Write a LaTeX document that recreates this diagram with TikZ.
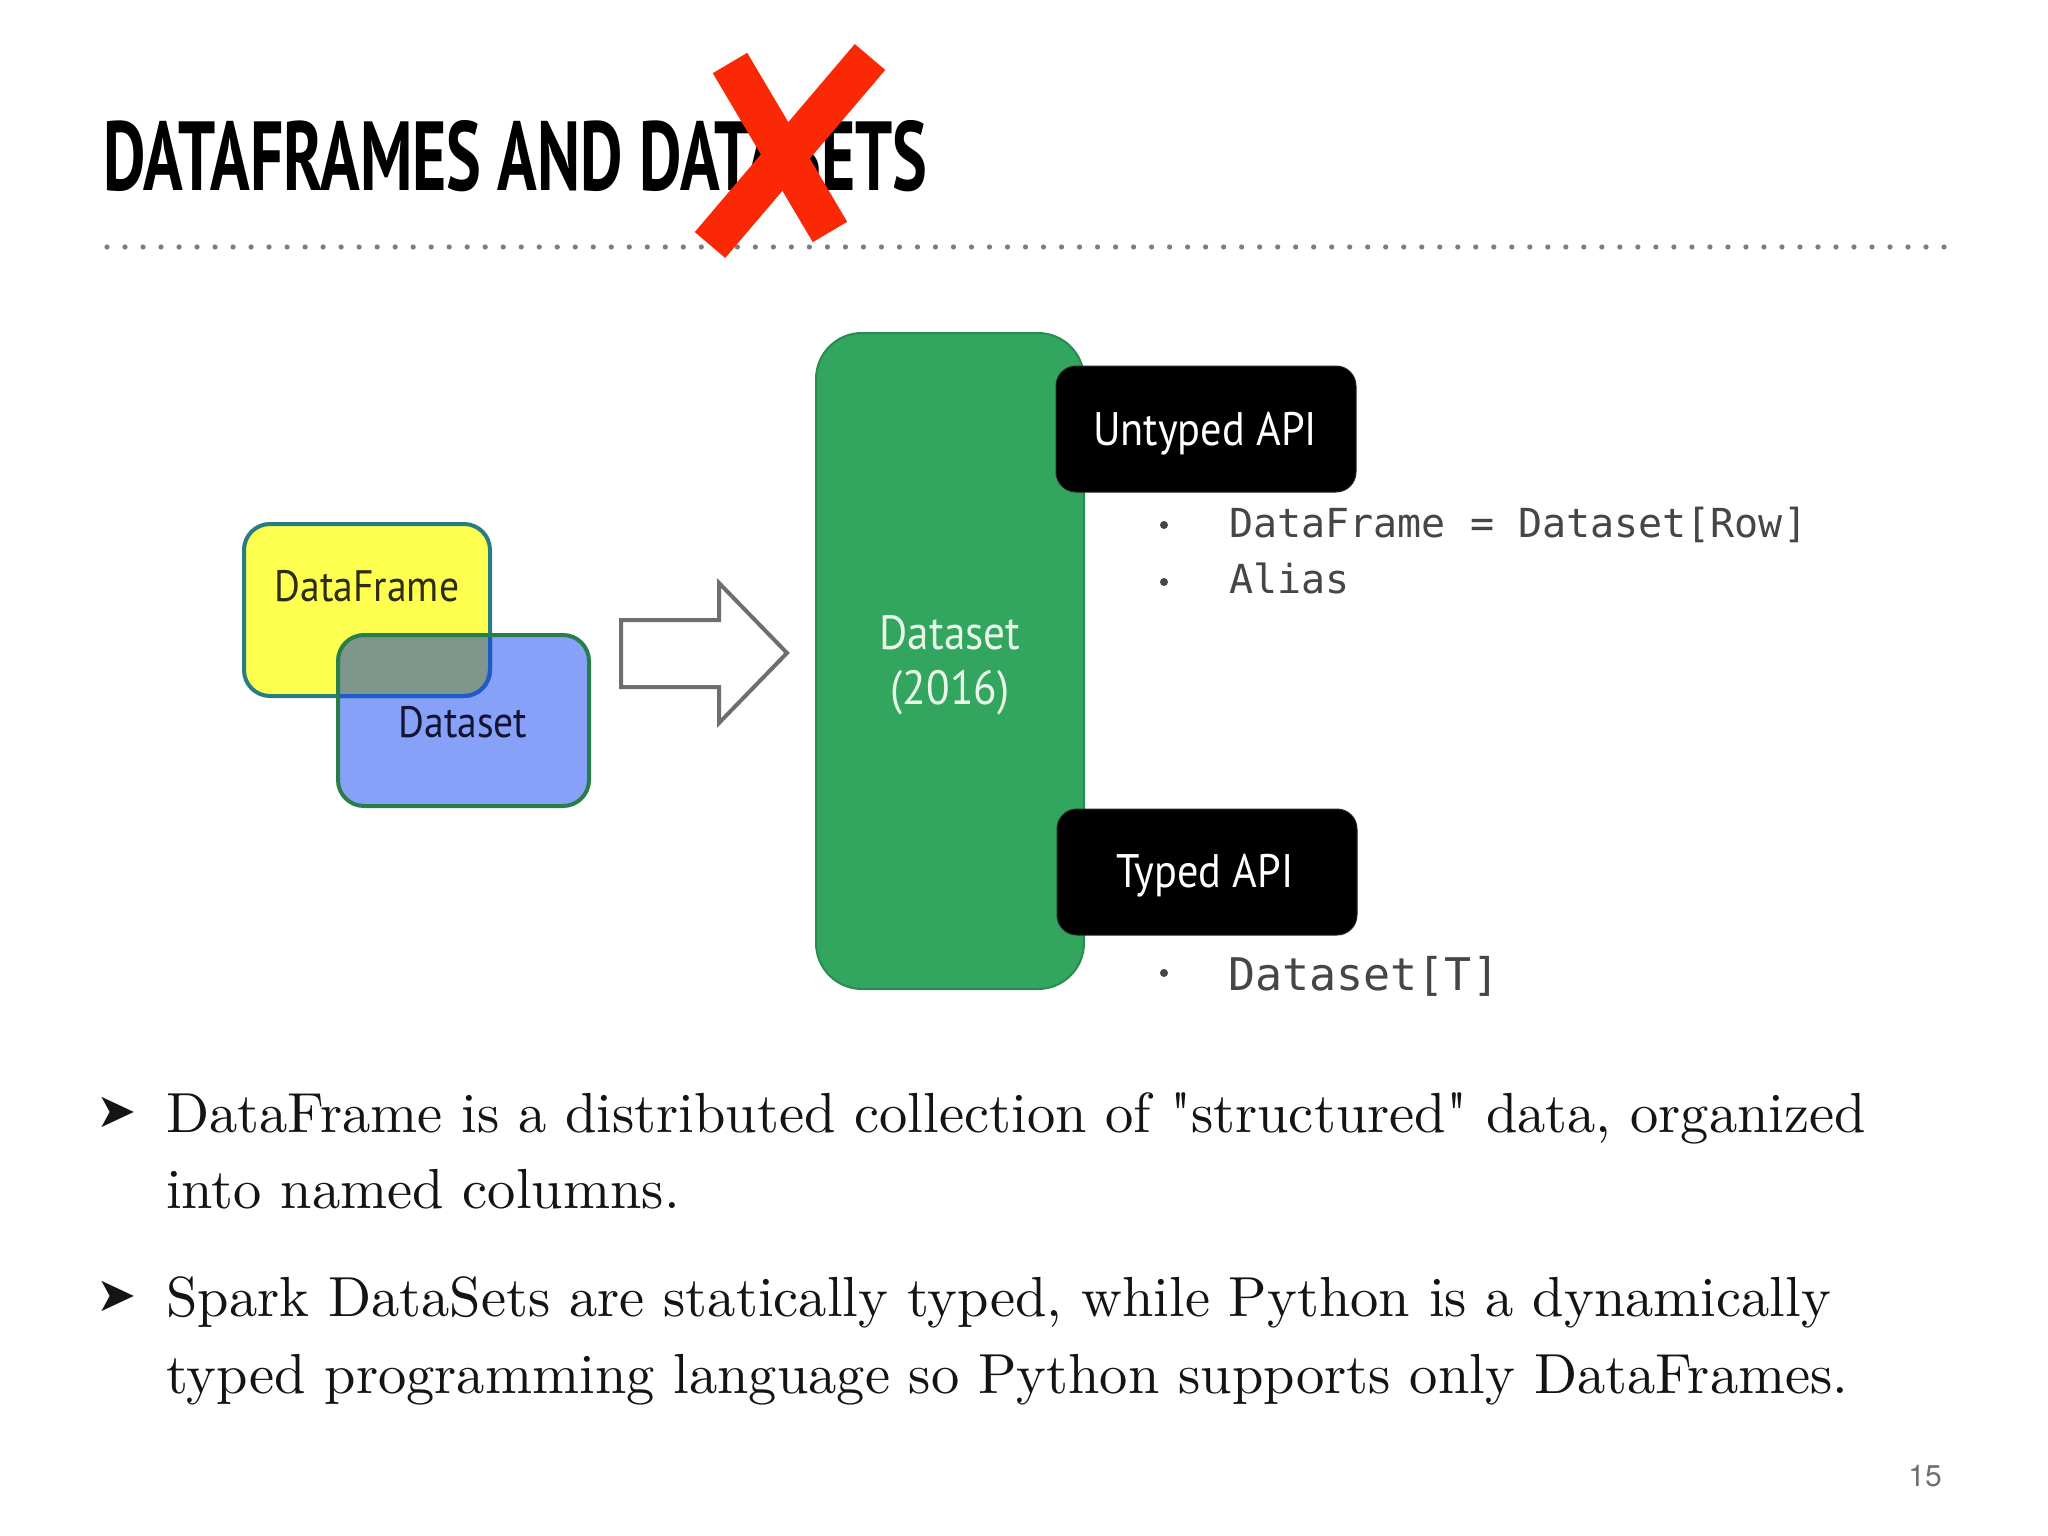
\documentclass[tikz,border=0pt]{standalone}
\usepackage{fontspec}
\usepackage{graphicx}
\newfontfamily\titlef{PT Sans}
\newfontfamily\labf{PT Sans}[FakeStretch=0.9]
\newfontfamily\monof{DejaVu Sans Mono}
\newfontfamily\symf{DejaVu Sans}
\newfontfamily\pnumf{TeX Gyre Heros}
\newfontfamily\bodyf{lmroman10-regular.otf}
\definecolor{yfill}{RGB}{255,255,80}
\definecolor{yline}{RGB}{40,125,130}
\definecolor{bfill}{RGB}{135,160,248}
\definecolor{ovl}{RGB}{127,150,140}
\definecolor{bline}{RGB}{30,90,200}
\definecolor{gline}{RGB}{40,125,75}
\definecolor{dsfill}{RGB}{50,165,95}
\definecolor{dsline}{RGB}{40,140,80}
\definecolor{dstext}{RGB}{232,246,232}
\definecolor{xred}{RGB}{250,40,5}
\definecolor{dotc}{RGB}{125,125,125}
\definecolor{monoc}{RGB}{70,70,70}
\definecolor{arrc}{RGB}{110,110,110}
\definecolor{bodyc}{RGB}{20,20,20}
\tikzset{
  lab/.style={inner sep=0, anchor=base, font=\labf\fontsize{44}{50}\selectfont},
  apibox/.style={fill=black, draw=black!85, line width=1pt, rounded corners=20pt, minimum width=300pt, minimum height=126pt, inner sep=0},
  apilab/.style={inner sep=0, anchor=base, text=white, font=\labf\fontsize{47}{52}\selectfont},
  monotxt/.style={inner sep=0, anchor=base west, text=monoc, font=\monof\fontsize{40}{46}\selectfont},
  bodytxt/.style={inner sep=0, anchor=base west, text=bodyc, font=\bodyf\fontsize{56.5}{76}\selectfont},
  bodyarrow/.style={inner sep=0, anchor=center, text=bodyc, font=\symf\fontsize{48}{54}\selectfont},
  bulletdot/.style={fill=monoc},
  xstroke/.style={draw=xred, line width=40pt, line cap=butt},
}
\begin{document}
\begin{tikzpicture}[x=1pt,y=-1pt]
\useasboundingbox (0,0) rectangle (2048,1536);
\fill[white] (0,0) rectangle (2048,1536);

% title
\node[inner sep=0, anchor=base west] (title) at (103,190)
  {\resizebox{824pt}{70pt}{\titlef\bfseries DATAFRAMES AND DATASETS}};

% dotted rule
\foreach \i in {0,...,102}
  \fill[dotc] ({107+18.01*\i},247) circle (2.6);

% red cross
\coordinate (xa1) at (730,63);
\coordinate (xa2) at (830,232);
\coordinate (xb1) at (870,57);
\coordinate (xb2) at (710,245);
\draw[xstroke] (xa1) -- (xa2);
\draw[xstroke] (xb1) -- (xb2);

% DataFrame / Dataset overlap
\fill[yfill, rounded corners=26pt] (244,524) rectangle (490,696);
\fill[bfill, rounded corners=26pt] (338,635) rectangle (589,806);
\begin{scope}
  \clip[rounded corners=26pt] (244,524) rectangle (490,696);
  \fill[ovl, rounded corners=26pt] (338,635) rectangle (589,806);
\end{scope}
\draw[yline, line width=4pt, rounded corners=26pt] (244,524) rectangle (490,696);
\begin{scope}
  \clip[rounded corners=26pt] (338,635) rectangle (589,806);
  \draw[bline, line width=4pt, rounded corners=26pt] (244,524) rectangle (490,696);
\end{scope}
\draw[gline, line width=4pt, rounded corners=26pt] (338,635) rectangle (589,806);
\node[lab, text={rgb,255:red,45;green,45;blue,20}] (dflab) at (367,601) {DataFrame};
\node[lab, text={rgb,255:red,20;green,20;blue,50}] (dslab) at (463,737) {Dataset};

% hollow arrow
\draw[arrc, line width=4pt, fill=white, line join=miter]
  (621,620) -- (719,620) -- (719,583) -- (787,653) -- (719,723) -- (719,687) -- (621,687) -- cycle;

% Dataset (2016)
\node[fill=dsfill, draw=dsline, line width=2pt, rounded corners=46pt,
      minimum width=268pt, minimum height=656pt, inner sep=0] (ds) at (950,661) {};
\node[lab, text=dstext, font=\labf\fontsize{48}{52}\selectfont] (ds1) at (950,649) {Dataset};
\node[lab, text=dstext, font=\labf\fontsize{48}{52}\selectfont] (ds2) at (950,704) {(2016)};

% API boxes
\node[apibox] (untyped) at (1206,429) {};
\node[apilab] (untypedlab) at (1205,445) {Untyped API};
\node[apibox] (typed) at (1207,872) {};
\node[apilab] (typedlab) at (1205,887) {Typed API};

% bullet texts
\fill[bulletdot] (1164,525) circle (4);
\fill[bulletdot] (1164,582) circle (4);
\fill[bulletdot] (1164,973) circle (4);
\node[monotxt] (m1) at (1229,537) {DataFrame = Dataset[Row]};
\node[monotxt] (m2) at (1229,593) {Alias};
\node[monotxt, font=\monof\fontsize{45}{50}\selectfont] (m3) at (1228,990) {Dataset[T]};

% body text
\node[bodyarrow] (ar1) at (117,1112) {➤};
\node[bodytxt] (l1) at (166,1132) {DataFrame is a distributed collection of "structured" data, organized};
\node[bodytxt] (l2) at (166,1208) {into named columns.};
\node[bodyarrow] (ar2) at (117,1296) {➤};
\node[bodytxt] (l3) at (166,1316) {Spark DataSets are statically typed, while Python is a dynamically};
\node[bodytxt] (l4) at (166,1393) {typed programming language so Python supports only DataFrames.};

% page number
\node[inner sep=0, anchor=base east, text=arrc, font=\pnumf\fontsize{30}{34}\selectfont] (pg) at (1942,1486) {15};
\end{tikzpicture}
\end{document}
